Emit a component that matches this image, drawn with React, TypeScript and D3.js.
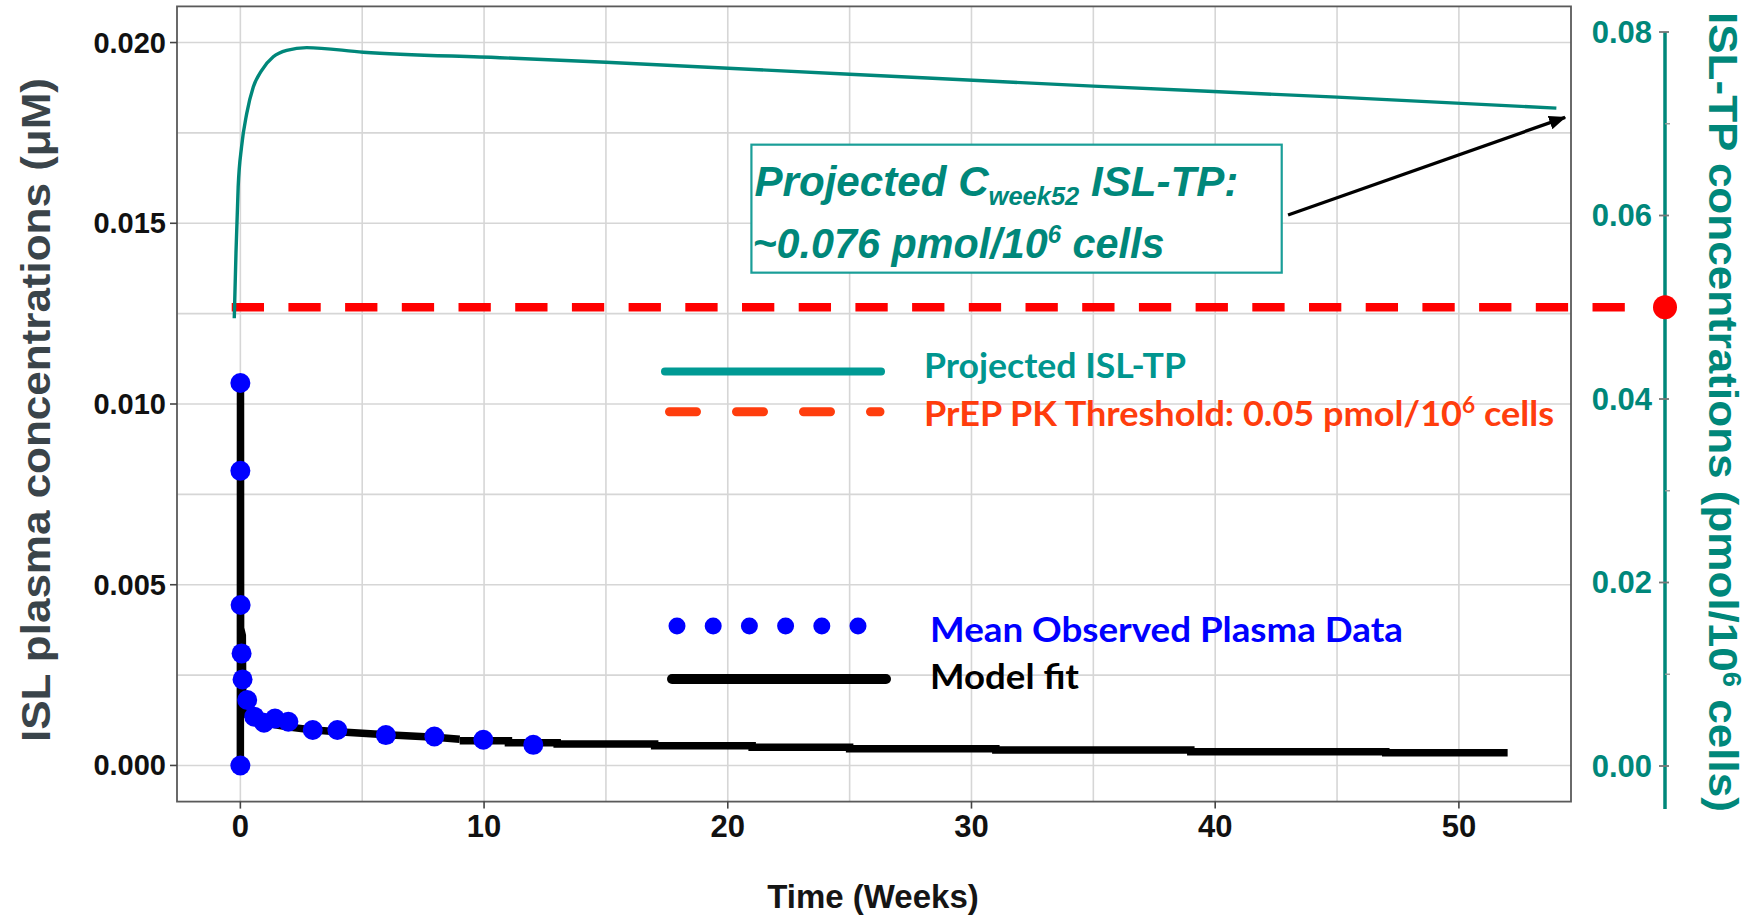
import * as d3 from 'd3';

// Mean observed ISL plasma data (weeks, µM)
const obsWeeks = [0, 0, 0, 0.01, 0.05, 0.09, 0.28, 0.57, 0.97, 1.42, 1.97, 2.97, 3.98, 5.97, 7.96, 9.97, 12.02];
const obsConc = [0, 0.01058, 0.00815, 0.00444, 0.0031, 0.00238, 0.00181, 0.00135, 0.00118, 0.0013, 0.00121, 0.00098, 0.00098, 0.00084, 0.0008, 0.00071, 0.00057];

// Model fit, early smooth part
const fitWeeks = [0, 0.005, 0.01, 0.08, 0.1, 0.2, 0.4, 0.6, 1, 1.5, 2, 3, 4, 6, 8, 9];
const fitConc = [0, 0.0106, 0.0038, 0.0036, 0.0018, 0.00145, 0.0013, 0.00125, 0.00118, 0.00112, 0.00106, 0.00098, 0.00093, 0.00085, 0.00078, 0.000724];
// Model fit, stepped tail
const stepWeeks = [9, 11, 13, 17, 21, 25, 31, 39, 47, 52];
const stepConc = [0.000686, 0.00063, 0.000594, 0.000547, 0.000503, 0.000464, 0.000429, 0.000382, 0.000354, 0.000354];

// Projected ISL-TP (weeks, pmol/10^6 cells)
const tpWeeks = [-0.25, -0.18, -0.09, 0.05, 0.26, 0.53, 0.87, 1.35, 1.9, 2.72, 5.04, 10.65, 15, 25, 35, 45, 54];
const tpConc = [0.0488, 0.0559, 0.0631, 0.0675, 0.0711, 0.074, 0.0758, 0.0773, 0.078, 0.0783, 0.0778, 0.0772, 0.0767, 0.0754, 0.0741, 0.0729, 0.0717];

const threshold = 0.05;
const thresholdSpan = [-0.355, 56.94];

const xMajor = [0, 10, 20, 30, 40, 50];
const xMinor = [5, 15, 25, 35, 45];
const yMajor = [0, 0.005, 0.01, 0.015, 0.02];
const yMinor = [0.0025, 0.0075, 0.0125, 0.0175];
const rMajor = [0, 0.02, 0.04, 0.06, 0.08];
const rMinor = [0.01, 0.03, 0.05, 0.07];

// annotation (week, right-axis value)
const annBox = { w0: 20.97, w1: 42.73, v0: 0.06772, v1: 0.05377 };
const annArrow = { w0: 42.99, v0: 0.06005, w1: 54.36, v1: 0.0707 };

const W = 1749;
const H = 916;
const AXIS = 'Liberation Sans, Arial, sans-serif';
const LEG = 'Lato, Carlito, sans-serif';
const TEAL = '#00877a';

const App = () => {
  const x = d3.scaleLinear().domain([-2.6, 54.6]).range([177, 1571]);
  const yL = d3.scaleLinear().domain([-0.001, 0.021]).range([801.6, 6.4]);
  const yR = d3.scaleLinear().domain([0, 0.08]).range([766, 32]);
  const rightX = 1665;

  const [px0, px1] = x.range();
  const [py0, py1] = yL.range();

  const fitLine = d3
    .line<number>()
    .x((_, i) => x(fitWeeks[i]))
    .y((d) => yL(d));
  const stepLine = d3
    .line<number>()
    .x((_, i) => x(stepWeeks[i]))
    .y((d) => yL(d))
    .curve(d3.curveStepAfter);
  const tpLine = d3
    .line<number>()
    .x((_, i) => x(tpWeeks[i]))
    .y((d) => yR(d))
    .curve(d3.curveMonotoneX);

  const bx0 = x(annBox.w0);
  const bx1 = x(annBox.w1);
  const by0 = yR(annBox.v0);
  const by1 = yR(annBox.v1);

  return (
    <svg
      width={W}
      height={H}
      style={{ position: 'absolute', left: 0, top: 0, background: '#fff' }}
    >
      <defs>
        <marker
          id='arrowHead'
          markerUnits='userSpaceOnUse'
          markerWidth={18}
          markerHeight={14}
          refX={16}
          refY={7}
          orient='auto'
        >
          <path d='M0,0 L17,7 L0,14 Z' fill='#000' />
        </marker>
      </defs>
      <rect x={0} y={0} width={W} height={H} fill='#fff' />

      {/* grid */}
      {xMinor.concat(xMajor).map((t) => (
        <line key={'gx' + t} x1={x(t)} x2={x(t)} y1={py1} y2={py0} stroke='#d6d6d6' strokeWidth={1.6} />
      ))}
      {yMinor.concat(yMajor).map((t) => (
        <line key={'gy' + t} x1={px0} x2={px1} y1={yL(t)} y2={yL(t)} stroke='#d6d6d6' strokeWidth={1.6} />
      ))}
      <rect x={px0} y={py1} width={px1 - px0} height={py0 - py1} fill='none' stroke='#5a5a5a' strokeWidth={1.8} />

      {/* axis ticks + labels */}
      {xMajor.map((t) => (
        <g key={'xt' + t}>
          <line x1={x(t)} x2={x(t)} y1={py0} y2={py0 + 7} stroke='#444' strokeWidth={1.6} />
          <text x={x(t)} y={826} textAnchor='middle' dominantBaseline='central' fontFamily={AXIS} fontWeight='bold' fontSize={31} fill='#111'>
            {t}
          </text>
        </g>
      ))}
      {yMajor.map((t) => (
        <g key={'yt' + t}>
          <line x1={px0 - 7} x2={px0} y1={yL(t)} y2={yL(t)} stroke='#444' strokeWidth={1.6} />
          <text x={166} y={yL(t)} textAnchor='end' dominantBaseline='central' fontFamily={AXIS} fontWeight='bold' fontSize={29} fill='#111'>
            {t.toFixed(3)}
          </text>
        </g>
      ))}

      <text x={873} y={908} textAnchor='middle' fontFamily={AXIS} fontWeight='bold' fontSize={33} fill='#151515'>
        Time (Weeks)
      </text>
      <text
        transform='translate(50,410) rotate(-90)'
        textAnchor='middle'
        fontFamily={AXIS}
        fontWeight='bold'
        fontSize={40}
        fill='#3a444a'
        textLength={664}
        lengthAdjust='spacingAndGlyphs'
      >
        ISL plasma concentrations (μM)
      </text>

      {/* right axis */}
      <line x1={rightX} x2={rightX} y1={yR(0.08)} y2={yR(-0.0047)} stroke={TEAL} strokeWidth={3.5} />
      {rMinor.map((t) => (
        <line key={'rm' + t} x1={rightX} x2={rightX + 5} y1={yR(t)} y2={yR(t)} stroke='#999' strokeWidth={1.4} />
      ))}
      {rMajor.map((t) => (
        <g key={'rt' + t}>
          <line x1={rightX - 6} x2={rightX + 4} y1={yR(t)} y2={yR(t)} stroke='#777' strokeWidth={1.8} />
          <text x={1652} y={yR(t)} textAnchor='end' dominantBaseline='central' fontFamily={AXIS} fontWeight='bold' fontSize={31} fill={TEAL}>
            {t.toFixed(2)}
          </text>
        </g>
      ))}
      <text
        transform='translate(1709,412) rotate(90)'
        textAnchor='middle'
        fontFamily={AXIS}
        fontWeight='bold'
        fontSize={40}
        fill={TEAL}
        textLength={800}
        lengthAdjust='spacingAndGlyphs'
      >
        ISL-TP concentrations (pmol/10
        <tspan fontSize={25} dy={-14}>6</tspan>
        <tspan dy={14}> cells)</tspan>
      </text>

      {/* threshold */}
      <line
        x1={x(thresholdSpan[0])}
        x2={x(thresholdSpan[1])}
        y1={yR(threshold)}
        y2={yR(threshold)}
        stroke='#ff0000'
        strokeWidth={8.5}
        strokeDasharray='32.3 24.4'
      />
      <circle cx={rightX} cy={yR(threshold)} r={12} fill='#ff0000' />

      {/* projected ISL-TP */}
      <path d={tpLine(tpConc) || ''} fill='none' stroke={TEAL} strokeWidth={3.4} />

      {/* model fit */}
      <path d={fitLine(fitConc) || ''} fill='none' stroke='#000' strokeWidth={7.5} strokeLinejoin='round' />
      <path d={stepLine(stepConc) || ''} fill='none' stroke='#000' strokeWidth={7.5} />

      {/* observed */}
      {obsConc.map((v, i) => (
        <circle key={'o' + i} cx={x(obsWeeks[i])} cy={yL(v)} r={10} fill='#0000ff' />
      ))}

      {/* legend */}
      <line x1={665} x2={881} y1={371.5} y2={371.5} stroke='#009a94' strokeWidth={8} strokeLinecap='round' />
      <text x={924} y={378} fontFamily={LEG} fontWeight='bold' fontSize={35} fill='#00968f' textLength={262} lengthAdjust='spacingAndGlyphs'>
        Projected ISL-TP
      </text>
      <line x1={669.5} x2={880} y1={411.7} y2={411.7} stroke='#ff3d0d' strokeWidth={9} strokeLinecap='round' strokeDasharray='27 40' />
      <text x={924} y={426} fontFamily={LEG} fontWeight='bold' fontSize={35} fill='#ff3d0d' textLength={630} lengthAdjust='spacingAndGlyphs'>
        PrEP PK Threshold: 0.05 pmol/10
        <tspan fontSize={22} dy={-13}>6</tspan>
        <tspan dy={13}> cells</tspan>
      </text>
      {d3.range(6).map((i) => (
        <circle key={'ld' + i} cx={677 + i * 36.2} cy={626} r={8.5} fill='#0000ff' />
      ))}
      <text x={930} y={642} fontFamily={LEG} fontWeight='bold' fontSize={35} fill='#0000ff' textLength={473} lengthAdjust='spacingAndGlyphs'>
        Mean Observed Plasma Data
      </text>
      <line x1={672} x2={886} y1={679} y2={679} stroke='#000' strokeWidth={10} strokeLinecap='round' />
      <text x={930} y={689} fontFamily={LEG} fontWeight='bold' fontSize={35} fill='#000' textLength={149} lengthAdjust='spacingAndGlyphs'>
        Model fit
      </text>

      {/* annotation */}
      <rect x={bx0} y={by0} width={bx1 - bx0} height={by1 - by0} fill='#fff' stroke='#1a9e98' strokeWidth={2.2} />
      <text
        x={bx0 + 3}
        y={by0 + 51}
        fontFamily={AXIS}
        fontStyle='italic'
        fontWeight='bold'
        fontSize={43}
        fill={TEAL}
        textLength={484}
        lengthAdjust='spacingAndGlyphs'
      >
        Projected C
        <tspan fontSize={26} dy={9}>week52</tspan>
        <tspan dy={-9}> ISL-TP:</tspan>
      </text>
      <text
        x={bx0 + 1}
        y={by0 + 113}
        fontFamily={AXIS}
        fontStyle='italic'
        fontWeight='bold'
        fontSize={43}
        fill={TEAL}
        textLength={412}
        lengthAdjust='spacingAndGlyphs'
      >
        ~0.076 pmol/10
        <tspan fontSize={25} dy={-15}>6</tspan>
        <tspan dy={15}> cells</tspan>
      </text>
      <line
        x1={x(annArrow.w0)}
        y1={yR(annArrow.v0)}
        x2={x(annArrow.w1)}
        y2={yR(annArrow.v1)}
        stroke='#000'
        strokeWidth={3.3}
        markerEnd='url(#arrowHead)'
      />
    </svg>
  );
};

export default App;
